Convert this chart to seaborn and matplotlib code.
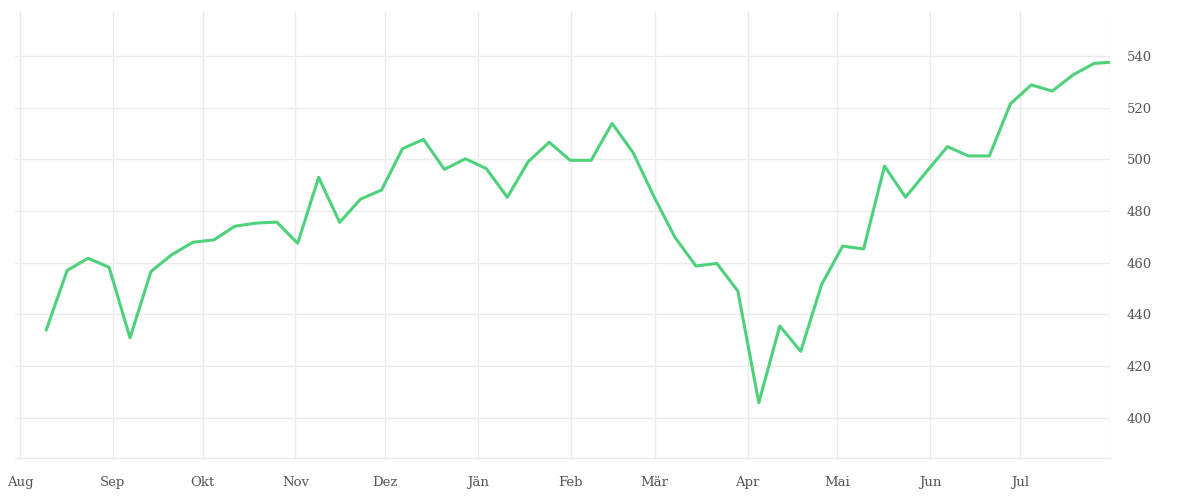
import matplotlib
matplotlib.use("Agg")
import matplotlib.pyplot as plt
import seaborn as sns
import pandas as pd

# ---- data ----
first_week = "2021-08-09 18:00"
n_weeks = 51
last_date = "2022-07-30 16:00"
values = [433.9, 457.0, 461.7, 458.2, 430.9, 456.6, 463.1, 467.9, 468.8, 474.1,
          475.3, 475.7, 467.5, 493.0, 475.6, 484.6, 488.1, 504.1, 507.7, 496.1,
          500.2, 496.4, 485.3, 499.1, 506.6, 499.6, 499.6, 513.9, 502.6, 485.5,
          469.8, 458.7, 459.7, 449.0, 405.8, 435.5, 425.7, 451.6, 466.4, 465.3,
          497.4, 485.3, 495.2, 504.9, 501.3, 501.3, 521.4, 528.8, 526.4, 532.7,
          537.1, 537.5]
month_labels = ["Aug", "Sep", "Okt", "Nov", "Dez", "Jän", "Feb", "Mär",
                "Apr", "Mai", "Jun", "Jul"]
y_ticks = [400, 420, 440, 460, 480, 500, 520, 540]
x_domain = ("2021-07-30 08:00", "2022-07-31 01:00")

dates = list(pd.date_range(first_week, periods=n_weeks, freq="7D")) + [pd.Timestamp(last_date)]
df = pd.DataFrame({"date": dates, "value": values})

sns.set_theme(style="white")
plt.rcParams["font.family"] = ["DejaVu Serif"]

fig = plt.figure(figsize=(12, 5), dpi=100)
ax = fig.add_axes([15 / 1200, 1 - 458 / 500, (1110 - 15) / 1200, (458 - 12) / 500])

grid_c = "#ebebeb"
sns.lineplot(data=df, x="date", y="value", ax=ax, color="#4dd27b", linewidth=2.2, zorder=3)

x0, x1 = pd.Timestamp(x_domain[0]), pd.Timestamp(x_domain[1])
ax.set_xlim(x0, x1)
ax.set_ylim(384.4, 557.0)

month_ticks = list(pd.date_range("2021-08-01", periods=12, freq="MS"))
ax.set_xticks(month_ticks + [x1])
ax.set_xticklabels(month_labels + [""])
ax.set_yticks(y_ticks)
ax.set_yticklabels([str(v) for v in y_ticks])

ax.yaxis.tick_right()
ax.grid(True, color=grid_c, linewidth=1)
for s in ["top", "left", "right"]:
    ax.spines[s].set_visible(False)
ax.spines["bottom"].set_color(grid_c)
ax.spines["bottom"].set_linewidth(1)

ax.tick_params(axis="x", length=7.2, width=1, color=grid_c, pad=6,
               labelsize=9.5, labelcolor="#555555")
ax.tick_params(axis="y", length=0, pad=12, labelsize=9.5, labelcolor="#555555")
ax.set_xlabel("")
ax.set_ylabel("")

fig.savefig("out.png", dpi=100)
